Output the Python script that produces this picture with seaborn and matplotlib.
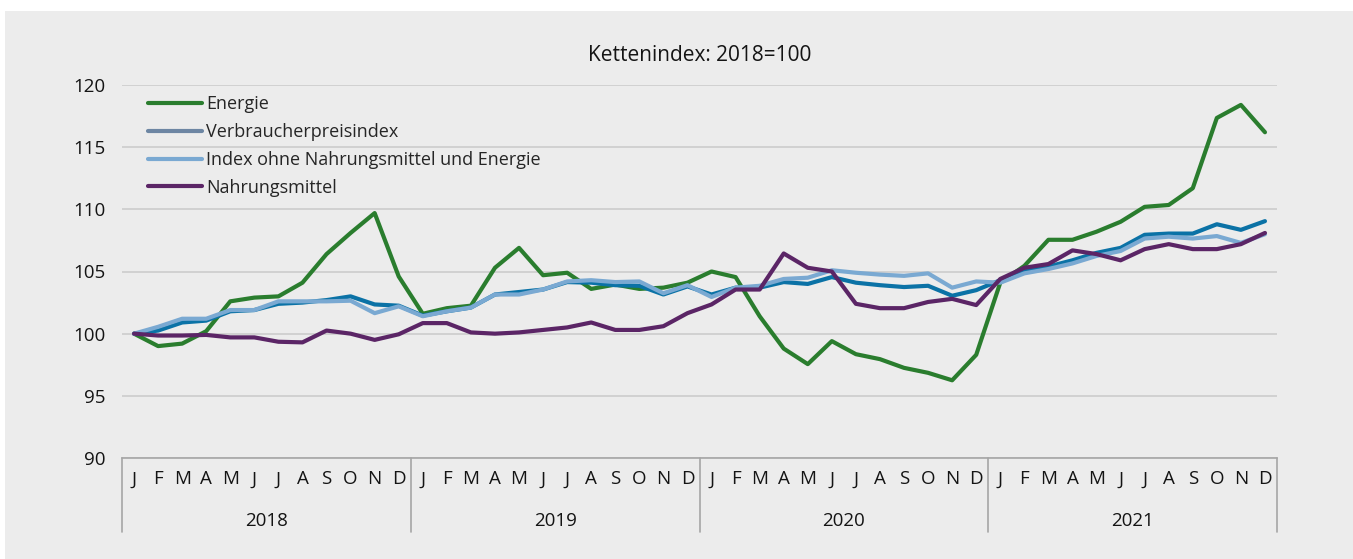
import matplotlib
matplotlib.use("Agg")
import matplotlib.pyplot as plt
from matplotlib.lines import Line2D
from matplotlib.patches import Rectangle
import seaborn as sns
import pandas as pd

# Monatswerte Jänner 2018 bis Dezember 2021 (Kettenindex 2018=100)
years = ["2018", "2019", "2020", "2021"]
month_letters = ["J", "F", "M", "A", "M", "J", "J", "A", "S", "O", "N", "D"]

energie = [
    100.0, 99.0, 99.2, 100.2, 102.6, 102.9, 103.0, 104.1, 106.4, 108.1, 109.7, 104.6,
    101.6, 102.05, 102.25, 105.3, 106.9, 104.7, 104.9, 103.6, 103.95, 103.6, 103.7, 104.1,
    105.0, 104.55, 101.4, 98.8, 97.55, 99.4, 98.35, 97.95, 97.25, 96.85, 96.25, 98.3,
    104.1, 105.45, 107.55, 107.55, 108.2, 109.0, 110.2, 110.35, 111.7, 117.35, 118.4, 116.2,
]
vpi = [
    100.0, 100.25, 100.9, 101.05, 101.8, 101.9, 102.4, 102.5, 102.7, 103.0, 102.35, 102.25,
    101.45, 101.8, 102.1, 103.15, 103.35, 103.55, 104.15, 104.1, 103.9, 103.85, 103.15, 103.8,
    103.15, 103.7, 103.7, 104.15, 104.0, 104.55, 104.1, 103.9, 103.75, 103.85, 103.05, 103.5,
    104.3, 105.05, 105.4, 105.9, 106.5, 106.9, 107.95, 108.05, 108.05, 108.8, 108.35, 109.05,
]
kern = [
    100.0, 100.55, 101.2, 101.2, 101.9, 101.9, 102.6, 102.6, 102.6, 102.65, 101.65, 102.2,
    101.4, 101.8, 102.1, 103.15, 103.15, 103.55, 104.2, 104.3, 104.15, 104.2, 103.25, 103.9,
    102.95, 103.7, 103.85, 104.4, 104.5, 105.1, 104.9, 104.75, 104.65, 104.85, 103.7, 104.2,
    104.1, 104.85, 105.2, 105.65, 106.25, 106.65, 107.65, 107.8, 107.65, 107.85, 107.3, 108.0,
]
nahrung = [
    100.0, 99.85, 99.85, 99.9, 99.7, 99.7, 99.35, 99.3, 100.25, 100.0, 99.5, 99.95,
    100.85, 100.85, 100.1, 100.0, 100.1, 100.3, 100.5, 100.9, 100.3, 100.3, 100.6, 101.65,
    102.35, 103.55, 103.55, 106.45, 105.3, 105.0, 102.4, 102.05, 102.05, 102.55, 102.8, 102.3,
    104.4, 105.3, 105.6, 106.7, 106.4, 105.9, 106.8, 107.2, 106.8, 106.8, 107.2, 108.1,
]

series_names = ["Energie", "Verbraucherpreisindex",
                "Index ohne Nahrungsmittel und Energie", "Nahrungsmittel"]
line_colors = ["#2a7d2e", "#0b72a6", "#7aa9d2", "#5b2566"]
legend_colors = ["#2a7d2e", "#6d86a3", "#7aa9d2", "#5b2566"]

n = len(energie)
df = pd.DataFrame({
    "monat": list(range(n)) * 4,
    "wert": energie + vpi + kern + nahrung,
    "reihe": [s for s in series_names for _ in range(n)],
})

sns.set_theme(style="white")
plt.rcParams["font.family"] = ["Open Sans", "DejaVu Sans"]
bg = "#ececec"
txt = "#141414"

fig = plt.figure(figsize=(13.53, 5.59), dpi=100, facecolor="white")
# grauer Hintergrund mit weissem Rand oben/links
fig.patches.append(Rectangle((5 / 1353, 0), 1, 1 - 11 / 559, transform=fig.transFigure,
                             facecolor=bg, edgecolor="none", zorder=-10))
ax = fig.add_axes([122 / 1353, 1 - 458 / 559, 1155 / 1353, 373 / 559])
ax.set_facecolor(bg)

sns.lineplot(data=df, x="monat", y="wert", hue="reihe", hue_order=series_names,
             palette=line_colors, linewidth=3.0, legend=False, ax=ax,
             solid_capstyle="round", solid_joinstyle="round")

ax.set_xlim(-0.5, n - 0.5)
ax.set_ylim(90, 120)
ax.set_yticks(range(90, 121, 5))
ax.yaxis.grid(True, color="#cccccc", linewidth=1.2)
ax.set_axisbelow(True)
ax.tick_params(axis="y", length=0, pad=12, labelsize=13.5, labelcolor=txt)

ax.set_xticks(range(n))
ax.set_xticklabels(month_letters * len(years))
ax.tick_params(axis="x", length=0, pad=9, labelsize=13.5, labelcolor=txt)
ax.set_xlabel("")
ax.set_ylabel("")

for side in ["left", "right", "top"]:
    ax.spines[side].set_visible(False)
ax.spines["bottom"].set_color("#a6a6a6")
ax.spines["bottom"].set_linewidth(1.2)

# Jahresgruppen unter der Achse
trans = ax.get_xaxis_transform()
for i in range(len(years) + 1):
    ax.plot([i * 12 - 0.5] * 2, [0, -0.198], transform=trans, color="#a6a6a6",
            linewidth=1.2, clip_on=False)
for i, yr in enumerate(years):
    ax.text(i * 12 + 5.5, -0.168, yr, transform=trans, ha="center", va="center",
            fontsize=13.5, color=txt)

ax.set_title("Kettenindex: 2018=100", fontsize=15, pad=17, color=txt)

handles = [Line2D([0], [0], color=c, linewidth=3.0) for c in legend_colors]
ax.legend(handles, series_names, loc="upper left", bbox_to_anchor=(0.0225, 0.972),
          frameon=False, fontsize=13, handlelength=3.0, handletextpad=0.2,
          labelspacing=0.54, borderpad=0, borderaxespad=0)

fig.savefig("out.png", dpi=100, facecolor=fig.get_facecolor())
